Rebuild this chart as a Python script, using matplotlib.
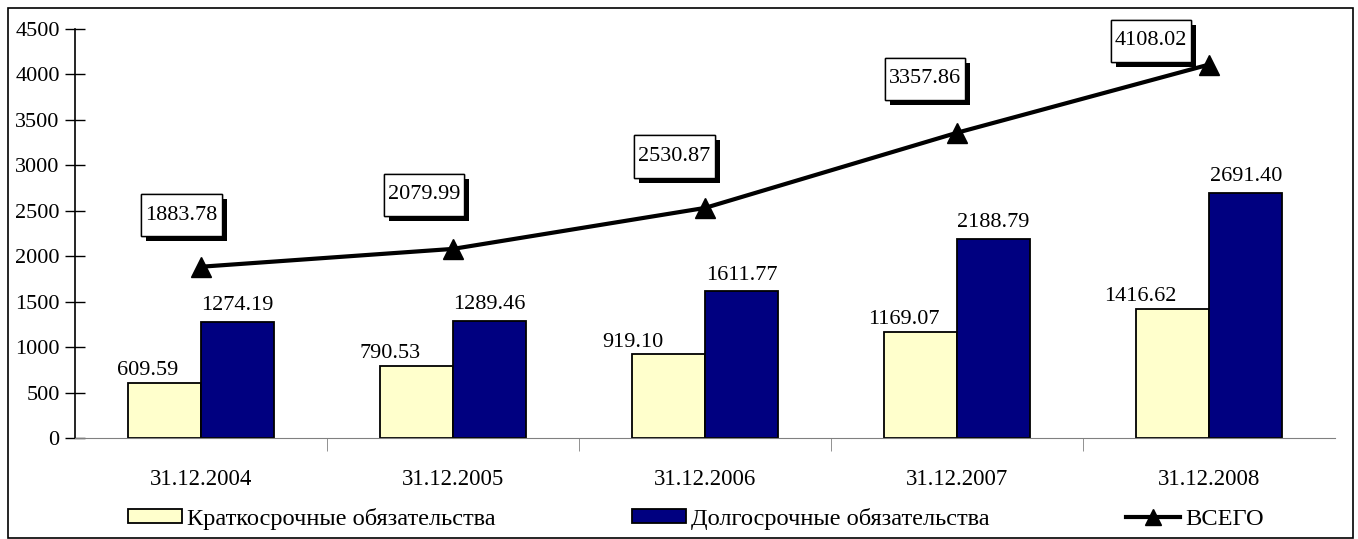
import matplotlib.pyplot as plt
import matplotlib.patheffects as pe
from matplotlib.patches import Rectangle
from matplotlib.path import Path
import numpy as np

plt.rcParams['font.family'] = ['Liberation Serif', 'DejaVu Serif']

# data
dates = ['31.12.2004', '31.12.2005', '31.12.2006', '31.12.2007', '31.12.2008']
short_term = [609.59, 790.53, 919.10, 1169.07, 1416.62]
long_term = [1274.19, 1289.46, 1611.77, 2188.79, 2691.40]
total = [1883.78, 2079.99, 2530.87, 3357.86, 4108.02]

# label offsets (points)
short_offsets = [-12, -19, -26, -12, -23]
total_offsets = [(-14, 37), (-21, 39), (-22, 37), (-23, 39), (-42, 17)]


def tall_box(x0, y0, width, height, mutation_size):
    # box with small side padding and larger top/bottom padding
    px = 0.18 * mutation_size
    py = 0.52 * mutation_size
    x1, y1 = x0 + width + px, y0 + height + py
    x0, y0 = x0 - px, y0 - py
    return Path([(x0, y0), (x1, y0), (x1, y1), (x0, y1), (x0, y0)], closed=True)


fig = plt.figure(figsize=(13.58, 5.39), dpi=100)
ax = fig.add_axes([0.0552, 0.1874, 0.928, 0.759])

x = np.arange(len(dates))
w = 0.29
b1 = ax.bar(x - w / 2, short_term, w, color='#FFFFCC', edgecolor='black', linewidth=1.3,
            label='Краткосрочные обязательства', zorder=2)
b2 = ax.bar(x + w / 2, long_term, w, color='#000080', edgecolor='black', linewidth=1.3,
            label='Долгосрочные обязательства', zorder=2)
l1, = ax.plot(x, total, color='black', lw=3, marker='^', markersize=14, label='ВСЕГО', zorder=3)

for xi, v, dx in zip(x, short_term, short_offsets):
    ax.annotate(f'{v:.2f}', (xi - w / 2, v), xytext=(dx, 2), textcoords='offset points',
                ha='center', va='bottom', fontsize=16)
for xi, v in zip(x, long_term):
    ax.annotate(f'{v:.2f}', (xi + w / 2, v), xytext=(0, 5), textcoords='offset points',
                ha='center', va='bottom', fontsize=16)
for xi, v, off in zip(x, total, total_offsets):
    t = ax.annotate(f'{v:.2f}', (xi, v), xytext=off, textcoords='offset points',
                    ha='center', va='center', fontsize=16,
                    bbox=dict(boxstyle=tall_box, fc='white', ec='black', lw=1))
    t.get_bbox_patch().set_path_effects([
        pe.withSimplePatchShadow(offset=(3.6, -3.6), shadow_rgbFace='black', alpha=1),
        pe.Normal()])

ax.set_xlim(-0.5, 4.5)
ax.set_ylim(0, 4500)
ax.set_yticks(range(0, 4501, 500))
ax.tick_params(axis='y', direction='inout', length=14, width=1, labelsize=16, pad=4)
ax.set_xticks(x)
ax.set_xticklabels(dates, fontsize=16.5)
ax.tick_params(axis='x', which='major', length=0, pad=22)
ax.set_xticks(np.arange(0.5, 4.5, 1), minor=True)
ax.tick_params(axis='x', which='minor', length=9, color='#808080', direction='out')
for s in ['top', 'right']:
    ax.spines[s].set_visible(False)
ax.spines['bottom'].set_color('#808080')
ax.spines['left'].set_linewidth(1.2)

leg = fig.legend(handles=[b1, b2, l1], loc='center left', bbox_to_anchor=(0.0943, 0.037),
                 ncol=3, frameon=False, fontsize=17.6, handlelength=2.2, handleheight=0.5,
                 handletextpad=0.2, columnspacing=5.6, borderpad=0, borderaxespad=0)
leg.legend_handles[2].set_markersize(12)

fig.patches.append(Rectangle((0.0059, 0.002), 0.9904, 0.984, transform=fig.transFigure,
                             fill=False, ec='black', lw=1.2))

fig.savefig('out.png', dpi=100)
